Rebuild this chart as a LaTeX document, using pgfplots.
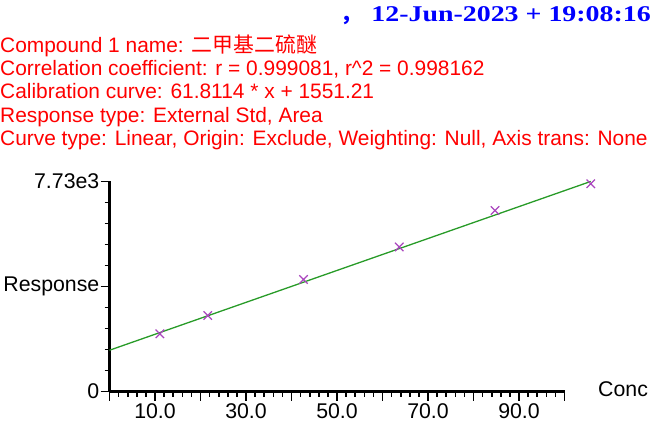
\documentclass[border=0pt]{standalone}
\usepackage{pgfplots}
\pgfplotsset{compat=1.18}
\usepackage{fontspec}
\setmainfont{Liberation Sans}
\newfontfamily\cjk{Noto Sans CJK SC}
\newfontfamily\titlefont{Liberation Serif}
\definecolor{linegreen}{RGB}{40,155,40}
\definecolor{markpurple}{RGB}{170,70,190}
\definecolor{titleblue}{RGB}{0,0,255}
\definecolor{txtred}{RGB}{255,0,0}
\begin{document}
\fontsize{21.3bp}{23.3bp}\selectfont
\begin{tikzpicture}[x=1bp,y=1bp]
\begin{axis}[
  at={(109.5bp,31.5bp)}, anchor=south west,
  scale only axis, width=455bp, height=210bp,
  xmin=-0.522, xmax=94.518, ymin=0, ymax=7730,
  axis lines=left,
  axis line style={line width=2.4bp,black,-},
  every outer x axis line/.append style={line width=2.4bp,-},
  every outer y axis line/.append style={line width=2.4bp,-},
  xtick={-0.522,8.982,18.486,27.990,37.494,46.998,56.502,66.006,75.510,85.014,94.518},
  xticklabels={,10.0,,30.0,,50.0,,70.0,,90.0,},
  minor x tick num=4,
  ytick={0,3865,7730},
  yticklabels={0,Response,7.73e3},
  minor y tick num=4,
  tick align=outside,
  major tick length=9bp, minor tick length=5bp,
  every tick/.style={black,line width=1.6bp},
  every major tick/.append style={line width=1.6bp},
  every minor tick/.append style={line width=1.6bp},
  tick label style={font=\fontsize{21.3bp}{23bp}\selectfont, black, inner sep=1bp},
  xticklabel style={yshift=-2bp},
  clip=false,
]
\addplot[linegreen, line width=1.3bp] coordinates {(-0.522,1518.9) (100,7732.3)};
\addplot[only marks, mark=x, mark size=6bp, markpurple, mark options={line width=1.2bp}] coordinates {
(10,2124) (20,2798) (40,4123) (60,5320) (80,6663) (100,7646)};
\end{axis}
\node[anchor=west, inner sep=0] at (598,34) {Conc};
\begin{scope}[every node/.style={anchor=base west, inner sep=0, text=txtred, font=\fontsize{20.9bp}{23bp}\selectfont}]
\node at (0,371) {Compound 1 name: {\cjk 二甲基二硫醚}};
\node at (0,347.5) {Correlation coefficient: r = 0.999081, r\^{}2 = 0.998162};
\node at (0,324.5) {Calibration curve: 61.8114 * x + 1551.21};
\node at (0,301) {Response type: External Std, Area};
\node at (0,278) {Curve type: Linear, Origin: Exclude, Weighting: Null, Axis trans: None};
\end{scope}
\node[anchor=base west, inner sep=0, text=titleblue] at (340,401) {{\cjk\bfseries ，}};
\node[anchor=base east, inner sep=0, text=titleblue] at (651,401) {\scalebox{1.24}[1]{\fontsize{22.5bp}{24bp}\selectfont\titlefont\bfseries 12-Jun-2023 + 19:08:16}};
\pgfresetboundingbox
\useasboundingbox (0,0) rectangle (652,423);
\end{tikzpicture}
\end{document}
